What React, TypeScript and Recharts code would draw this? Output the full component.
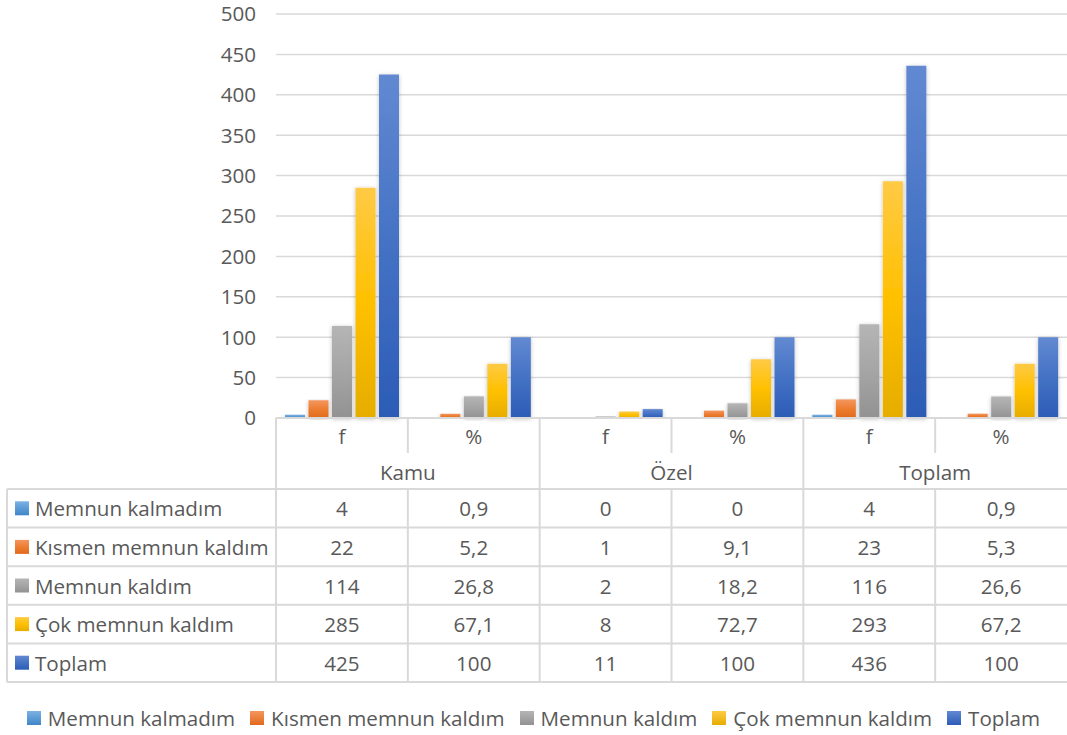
import { BarChart, Bar, XAxis, YAxis, CartesianGrid, Legend } from 'recharts';

const groups = ['Kamu', 'Özel', 'Toplam'];
const subLabels = ['f', '%', 'f', '%', 'f', '%'];
const seriesNames = ['Memnun kalmadım', 'Kısmen memnun kaldım', 'Memnun kaldım', 'Çok memnun kaldım', 'Toplam'];
const memnunKalmadim = [4, 0.9, 0, 0, 4, 0.9];
const kismenMemnun = [22, 5.2, 1, 9.1, 23, 5.3];
const memnunKaldim = [114, 26.8, 2, 18.2, 116, 26.6];
const cokMemnun = [285, 67.1, 8, 72.7, 293, 67.2];
const toplam = [425, 100, 11, 100, 436, 100];
const yTicks = [0, 50, 100, 150, 200, 250, 300, 350, 400, 450, 500];

const seriesValues = [memnunKalmadim, kismenMemnun, memnunKaldim, cokMemnun, toplam];
// [top, middle, bottom] of the Excel style gradient
const seriesColors = [
  ['#7cb2e3', '#5b9bd5', '#3f86c8'],
  ['#f4965f', '#ed7d31', '#e06a1c'],
  ['#b5b5b5', '#a5a5a5', '#929292'],
  ['#ffca45', '#ffc000', '#e6ad00'],
  ['#6289d2', '#4472c4', '#2c5cb6'],
];

const data = subLabels.map((sub, i) => {
  const row: Record<string, string | number> = { name: `${groups[Math.floor(i / 2)]} ${sub}`, sub };
  seriesValues.forEach((vals, s) => { row[`s${s}`] = vals[i]; });
  return row;
});

const WIDTH = 1067;
const HEIGHT = 735;
const PLOT_LEFT = 276;
const PLOT_TOP = 14;
const PLOT_BOTTOM = 418;
const LEGEND_H = 35;
const COL_W = (WIDTH - PLOT_LEFT) / subLabels.length;
const TABLE_LEFT = 7;
const HEADER_BOTTOM = 489;
const ROW_H = 38.6;
const SUB_DIVIDER_END = 453;

const FONT = '"Open Sans", sans-serif';
const FONT_SIZE = 20.6;
const TEXT = '#595959';
const LINE = '#d9d9d9';

const fmt = (v: number) => String(v).replace('.', ',');

function TableTick(props: any) {
  const { x, index } = props;
  const left = x - COL_W / 2;
  const isGroupStart = index % 2 === 0;
  const tableBottom = HEADER_BOTTOM + ROW_H * seriesNames.length;
  return (
    <g fontFamily={FONT} fontSize={FONT_SIZE} fill={TEXT}>
      {index === 0 && (
        <g>
          {Array.from({ length: seriesNames.length + 1 }).map((_, r) => (
            <line key={`h${r}`} x1={TABLE_LEFT} x2={WIDTH} y1={HEADER_BOTTOM + r * ROW_H} y2={HEADER_BOTTOM + r * ROW_H} stroke={LINE} strokeWidth={2} />
          ))}
          <line x1={TABLE_LEFT} x2={TABLE_LEFT} y1={HEADER_BOTTOM} y2={tableBottom} stroke={LINE} strokeWidth={2} />
          {seriesNames.map((n, s) => (
            <g key={n}>
              <rect x={15} y={HEADER_BOTTOM + ROW_H * s + ROW_H / 2 - 7} width={14} height={14} fill={`url(#grad${s})`} />
              <text x={35} y={HEADER_BOTTOM + ROW_H * s + ROW_H / 2} dominantBaseline="central">{n}</text>
            </g>
          ))}
        </g>
      )}
      {isGroupStart ? (
        <line x1={left} x2={left} y1={PLOT_BOTTOM} y2={tableBottom} stroke={LINE} strokeWidth={2} />
      ) : (
        <g>
          <line x1={left} x2={left} y1={PLOT_BOTTOM} y2={SUB_DIVIDER_END} stroke={LINE} strokeWidth={2} />
          <line x1={left} x2={left} y1={HEADER_BOTTOM} y2={tableBottom} stroke={LINE} strokeWidth={2} />
        </g>
      )}
      <text x={x} y={436} textAnchor="middle" dominantBaseline="central">{subLabels[index]}</text>
      {isGroupStart && (
        <text x={x + COL_W / 2} y={472} textAnchor="middle" dominantBaseline="central">{groups[index / 2]}</text>
      )}
      {seriesValues.map((vals, s) => (
        <text key={s} x={x} y={HEADER_BOTTOM + ROW_H * s + ROW_H / 2} textAnchor="middle" dominantBaseline="central">{fmt(vals[index])}</text>
      ))}
    </g>
  );
}

function LegendContent() {
  return (
    <div style={{ height: LEGEND_H, display: 'flex', justifyContent: 'center', alignItems: 'center', fontFamily: FONT, fontSize: FONT_SIZE, color: TEXT, gap: 15, whiteSpace: 'nowrap' }}>
      {seriesNames.map((n, s) => (
        <span key={n} style={{ display: 'flex', alignItems: 'center', gap: 7 }}>
          <span style={{ width: 14, height: 14, display: 'inline-block', background: `linear-gradient(${seriesColors[s][0]}, ${seriesColors[s][2]})` }} />
          {n}
        </span>
      ))}
    </div>
  );
}

export default function App() {
  return (
    <div style={{ position: 'absolute', left: 0, top: 0, background: '#fff' }}>
      <BarChart width={WIDTH} height={HEIGHT} data={data} margin={{ top: PLOT_TOP, right: 0, left: 0, bottom: 0 }} barCategoryGap={9} barGap={3.5}>
        <defs>
          {seriesColors.map((c, s) => (
            <linearGradient key={s} id={`grad${s}`} x1="0" y1="0" x2="0" y2="1">
              <stop offset="0%" stopColor={c[0]} />
              <stop offset="50%" stopColor={c[1]} />
              <stop offset="100%" stopColor={c[2]} />
            </linearGradient>
          ))}
          <filter id="barShadow" x="-30%" y="-5%" width="160%" height="115%">
            <feDropShadow dx="0" dy="1" stdDeviation="2" floodColor="#000" floodOpacity="0.25" />
          </filter>
        </defs>
        <CartesianGrid vertical={false} stroke={LINE} strokeWidth={1.5} />
        <XAxis dataKey="name" height={HEIGHT - PLOT_BOTTOM - LEGEND_H} axisLine={{ stroke: LINE, strokeWidth: 2 }} tickLine={false} tick={<TableTick />} interval={0} />
        <YAxis width={PLOT_LEFT} domain={[0, 500]} ticks={yTicks} axisLine={false} tickLine={false} tickMargin={14}
          tick={{ fill: TEXT, fontSize: FONT_SIZE, fontFamily: FONT }} />
        {seriesNames.map((n, s) => (
          <Bar key={n} dataKey={`s${s}`} name={n} fill={`url(#grad${s})`} filter="url(#barShadow)" isAnimationActive={false} />
        ))}
        <Legend verticalAlign="bottom" content={<LegendContent />} />
      </BarChart>
    </div>
  );
}
